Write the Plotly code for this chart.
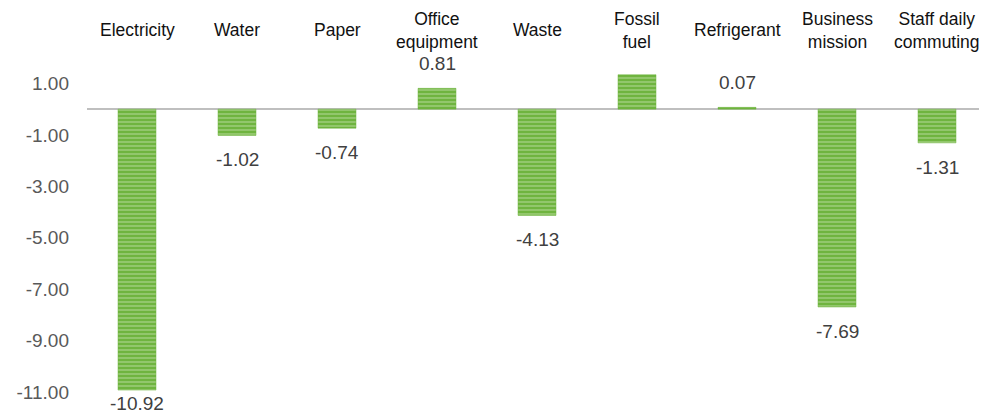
import plotly.graph_objects as go

categories = ["Electricity", "Water", "Paper", "Office<br>equipment", "Waste",
              "Fossil<br>fuel", "Refrigerant", "Business<br>mission", "Staff daily<br>commuting"]
values = [-10.92, -1.02, -0.74, 0.81, -4.13, 1.34, 0.07, -7.69, -1.31]
labels = ["-10.92", "-1.02", "-0.74", "0.81", "-4.13", "", "0.07", "-7.69", "-1.31"]
tick_vals = [1, -1, -3, -5, -7, -9, -11]
tick_text = ["1.00", "-1.00", "-3.00", "-5.00", "-7.00", "-9.00", "-11.00"]

GREEN = "#6FB43F"
FONT = "Liberation Sans, Arial, sans-serif"

fig = go.Figure()
fig.add_trace(go.Bar(
    x=list(range(len(categories))), y=values, width=0.38,
    marker=dict(color=GREEN, line=dict(color=GREEN, width=0.5),
                pattern=dict(shape="-", fgcolor="#E4F2D6", bgcolor=GREEN,
                             size=4, solidity=0.3, fillmode="overlay")),
    hoverinfo="skip",
))

annotations = []
for i, (v, t) in enumerate(zip(values, labels)):
    if not t:
        continue
    if v < 0:
        shift = -12 if v > -10.5 else -1
        annotations.append(dict(x=i, y=v, text=t, showarrow=False, xref="x", yref="y",
                                yanchor="top", yshift=shift,
                                font=dict(family=FONT, size=19, color="#404040")))
    else:
        annotations.append(dict(x=i, y=v, text=t, showarrow=False, xref="x", yref="y",
                                yanchor="bottom", yshift=12,
                                font=dict(family=FONT, size=19, color="#404040")))
for i, c in enumerate(categories):
    annotations.append(dict(x=i, y=1, xref="x", yref="paper", text=c, showarrow=False,
                            yanchor="middle", yshift=2,
                            font=dict(family=FONT, size=17.5, color="#111111")))

fig.update_layout(
    width=979, height=409,
    margin=dict(l=79, r=0, t=24, b=12),
    paper_bgcolor="white", plot_bgcolor="white",
    showlegend=False,
    annotations=annotations,
    xaxis=dict(range=[-0.5, len(categories) - 0.5], showticklabels=False,
               showgrid=False, zeroline=False, showline=False, fixedrange=True),
    yaxis=dict(range=[-11.5, 3.0], tickvals=tick_vals, ticktext=tick_text,
               showgrid=False, zeroline=True, zerolinecolor="#BFBFBF", zerolinewidth=2,
               showline=False, ticklabelstandoff=17,
               tickfont=dict(family=FONT, size=19, color="#595959")),
)

fig.write_html("out.html")
